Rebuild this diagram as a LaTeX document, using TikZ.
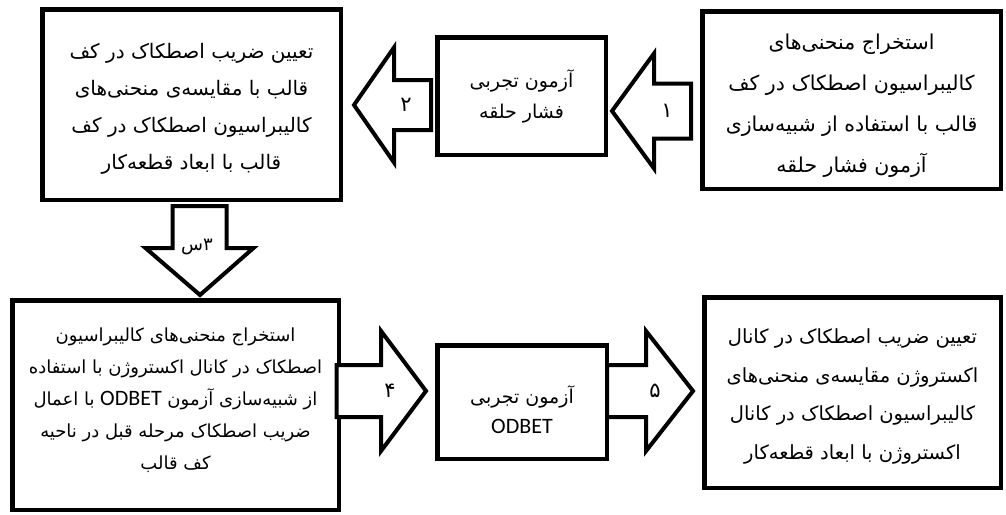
\documentclass[tikz,border=0pt]{standalone}
\usepackage{fontspec}
\newfontfamily\farsi[Script=Arabic]{DejaVu Sans}
\newfontfamily\latin{Carlito}
\TeXXeTstate=1
\newcommand\fa[1]{\beginR #1\endR}
\usetikzlibrary{calc}
\begin{document}
\begin{tikzpicture}[x=1pt,y=-1pt]
        % Styles
        \tikzstyle{box}=[draw,line width=4.5pt,inner sep=0pt]
        \tikzstyle{box text}=[align=center,inner sep=0pt]
        \tikzstyle{block arrow}=[draw,line width=4pt,fill=white,line join=miter]
        \tikzstyle{number}=[font=\farsi\fontsize{21}{22}\selectfont]
        %The graphic
        \useasboundingbox (0,0) rectangle (1006,514);
        %boxes
        \node[box,minimum width=298.5pt,minimum height=190.5pt] (A) at (191.5,104.5) {};
        \node[box,minimum width=168.5pt,minimum height=117.5pt] (B) at (521.5,96) {};
        \node[box,minimum width=298.5pt,minimum height=177.5pt] (C) at (851.5,100) {};
        \node[box,minimum width=326.5pt,minimum height=209.5pt] (D) at (175.5,405) {};
        \node[box,minimum width=169.5pt,minimum height=113.5pt] (E) at (522,402) {};
        \node[box,minimum width=296.5pt,minimum height=190.5pt] (F) at (852.5,392.5) {};
        %texts
        \node[box text,font=\farsi\fontsize{20}{37}\selectfont] (A text) at ($(A)+(0,4)$)
            {\fa{تعیین ضریب اصطکاک در کف}\\\fa{قالب با مقایسه‌ی منحنی‌های}\\\fa{کالیبراسیون اصطکاک در کف}\\\fa{قالب با ابعاد قطعه‌کار}};
        \node[box text,font=\farsi\fontsize{19}{31}\selectfont] (B text) at ($(B)+(0,0)$)
            {\fa{آزمون تجربی}\\\fa{فشار حلقه}};
        \node[box text,font=\farsi\fontsize{20.5}{41}\selectfont] (C text) at ($(C)+(0,6)$)
            {\fa{استخراج منحنی‌های}\\\fa{کالیبراسیون اصطکاک در کف}\\\fa{قالب با استفاده از شبیه‌سازی}\\\fa{آزمون فشار حلقه}};
        \node[box text,font=\farsi\fontsize{18}{32}\selectfont] (D text) at ($(D)+(0,-5)$)
            {\fa{استخراج منحنی‌های کالیبراسیون}\\\fa{اصطکاک در کانال اکستروژن با استفاده}\\\fa{از شبیه‌سازی آزمون \beginL{\latin\fontsize{22}{32}\selectfont ODBET}\endL{} با اعمال}\\\fa{ضریب اصطکاک مرحله قبل در ناحیه}\\\fa{کف قالب}};
        \node[box text,font=\farsi\fontsize{19}{30}\selectfont] (E text) at ($(E)+(0,8)$)
            {\fa{آزمون تجربی}\\{\latin\fontsize{22}{30}\selectfont ODBET}};
        \node[box text,font=\farsi\fontsize{19.5}{38.5}\selectfont] (F text) at ($(F)+(0,4)$)
            {\fa{تعیین ضریب اصطکاک در کانال}\\\fa{اکستروژن مقایسه‌ی منحنی‌های}\\\fa{کالیبراسیون اصطکاک در کانال}\\\fa{اکستروژن با ابعاد قطعه‌کار}};
        %arrows
        \coordinate (t1) at ($(B.east)+(4,15)$);
        \draw[block arrow] (t1) -- ++(42,-57.5) -- ++(0,30) -- ++(37,0) -- ++(0,55) -- ++(-37,0) -- ++(0,30) -- cycle;
        \node[number] (n1) at ($(t1)+(55,0)$) {۱};
        \coordinate (t2) at ($(A.east)+(11,0.5)$);
        \draw[block arrow] (t2) -- ++(40,-57.5) -- ++(0,32.5) -- ++(37,0) -- ++(0,50) -- ++(-37,0) -- ++(0,32.5) -- cycle;
        \node[number] (n2) at ($(t2)+(52,0)$) {۲};
        \coordinate (t3) at ($(D.north)+(24.5,-3)$);
        \draw[block arrow] (t3) -- ++(-54.5,-47) -- ++(27,0) -- ++(0,-42) -- ++(54,0) -- ++(0,42) -- ++(27,0) -- cycle;
        \node[number,font=\farsi\fontsize{18}{20}\selectfont] (n3) at ($(t3)+(-3,-48)$) {س\hbox{}۳};
        \coordinate (t4) at ($(E.west)+(-9,-11)$);
        \draw[block arrow] (t4) -- ++(-45,-60) -- ++(0,34) -- ++(-44.5,0) -- ++(0,52) -- ++(44.5,0) -- ++(0,34) -- cycle;
        \node[number] (n4) at ($(t4)+(-36,0)$) {۴};
        \coordinate (t5) at ($(F.west)+(-9,-1.5)$);
        \draw[block arrow] (t5) -- ++(-47,-60) -- ++(0,34) -- ++(-39,0) -- ++(0,52) -- ++(39,0) -- ++(0,34) -- cycle;
        \node[number] (n5) at ($(t5)+(-38,0)$) {۵};
\end{tikzpicture}
\end{document}
